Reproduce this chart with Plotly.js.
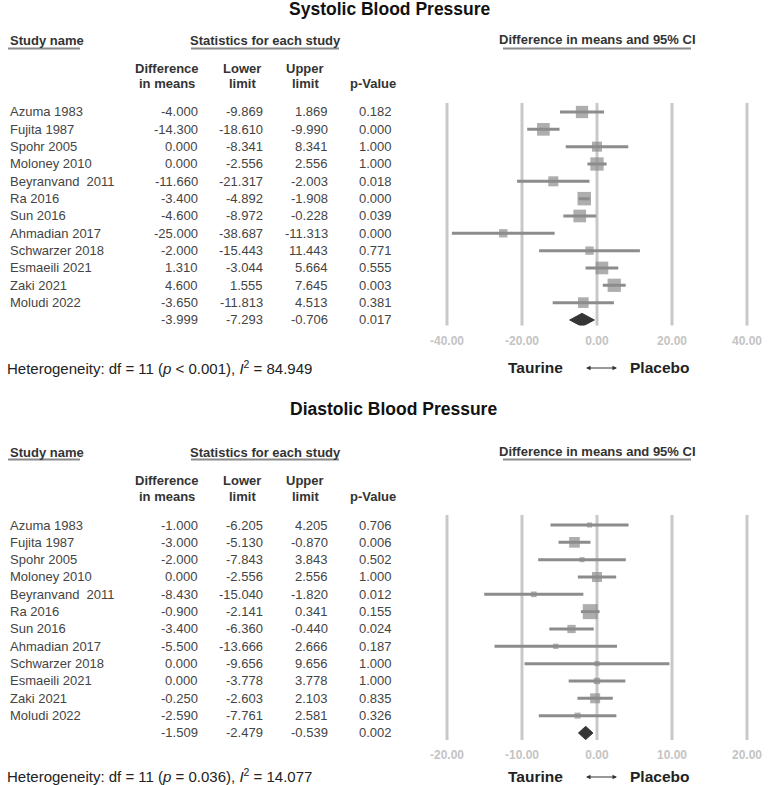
<!DOCTYPE html>
<html><head><meta charset="utf-8">
<script src="https://cdn.plot.ly/plotly-3.0.1.min.js"></script>
<style>html,body{margin:0;padding:0;background:#fff;} #chart{width:769px;height:785px;}</style>
</head><body><div id="chart"></div>
<script>
// ---------------- DATA ----------------
const studies = ['Azuma 1983','Fujita 1987','Spohr 2005','Moloney 2010','Beyranvand\u00a0 2011','Ra 2016','Sun 2016','Ahmadian 2017','Schwarzer 2018','Esmaeili 2021','Zaki 2021','Moludi 2022'];

// Systolic blood pressure
const sysDiff  = [-4.000,-14.300, 0.000, 0.000,-11.660,-3.400,-4.600,-25.000,-2.000, 1.310, 4.600,-3.650];
const sysLower = [-9.869,-18.610,-8.341,-2.556,-21.317,-4.892,-8.972,-38.687,-15.443,-3.044, 1.555,-11.813];
const sysUpper = [ 1.869, -9.990, 8.341, 2.556, -2.003,-1.908,-0.228,-11.313, 11.443, 5.664, 7.645, 4.513];
const sysP     = [0.182,0.000,1.000,1.000,0.018,0.000,0.039,0.000,0.771,0.555,0.003,0.381];
const sysWeight= [9.3,9.9,6.2,10.9,6.2,11.2,9.9,4.3,4.3,9.9,10.9,7.0];   // relative weight (%)
const sysPooled= [-3.999,-7.293,-0.706,0.017];                          // diff, lower, upper, p
const sysTicks = [-40,-20,0,20,40];
const sysHetDf = 11, sysHetP = '< 0.001', sysHetI2 = 84.949;

// Diastolic blood pressure
const diaDiff  = [-1.000,-3.000,-2.000, 0.000,-8.430,-0.900,-3.400,-5.500, 0.000, 0.000,-0.250,-2.590];
const diaLower = [-6.205,-5.130,-7.843,-2.556,-15.040,-2.141,-6.360,-13.666,-9.656,-3.778,-2.603,-7.761];
const diaUpper = [ 4.205,-0.870, 3.843, 2.556, -1.820, 0.341,-0.440, 2.666, 9.656, 3.778, 2.103, 2.581];
const diaP     = [0.706,0.006,0.502,1.000,0.012,0.155,0.024,0.187,1.000,1.000,0.835,0.326];
const diaWeight= [3.1,13.9,3.1,12.2,3.9,27.5,8.4,3.4,3.1,4.9,12.2,4.4];
const diaPooled= [-1.509,-2.479,-0.539,0.002];
const diaTicks = [-20,-10,0,10,20];
const diaHetDf = 11, diaHetP = '= 0.036', diaHetI2 = 14.077;

const colHeads1 = ['Difference','Lower','Upper',''];
const colHeads2 = ['in means','limit','limit','p-Value'];

// ---------------- LAYOUT HELPERS ----------------
const W=769, H=785;
const px = x => x/W, py = y => 1 - y/H;
const FONT = 'Liberation Sans, Arial, Helvetica, sans-serif';
const GRID='#c8c8c8', MARK='#8c8c8c', DIAM='#363636', TXT='#444444', HDR='#333333';

const panels = [
  {title:'Systolic Blood Pressure', titleX:390, titleY:9.5, hdrY:41, ulY:48.5, ch1:69, ch2:84,
   rowTop:112, sp:17.33, domTop:103, domBot:325.5, hetY:367, favY:367, xa:'x', ya:'y', xk:'xaxis', yk:'yaxis',
   ppu:3.75, k:4.03, diff:sysDiff, lo:sysLower, hi:sysUpper, p:sysP, w:sysWeight, pooled:sysPooled,
   ticks:sysTicks, het:[sysHetDf, sysHetP, sysHetI2]},
  {title:'Diastolic Blood Pressure', titleX:393, titleY:409, hdrY:452, ulY:459.5, ch1:480, ch2:496,
   rowTop:525, sp:17.33, domTop:515, domBot:740, hetY:775, favY:776, xa:'x2', ya:'y2', xk:'xaxis2', yk:'yaxis2',
   ppu:7.5, k:2.86, diff:diaDiff, lo:diaLower, hi:diaUpper, p:diaP, w:diaWeight, pooled:diaPooled,
   ticks:diaTicks, het:[diaHetDf, diaHetP, diaHetI2]}
];

const numX = [200,265,330,394];     // right edges of numeric columns
const headX = [166.5,242,305,373];  // header centres

const traces=[], annotations=[], shapes=[];
const layout = {width:W, height:H, margin:{l:0,r:0,t:0,b:0}, paper_bgcolor:'#fff', plot_bgcolor:'rgba(0,0,0,0)',
  showlegend:false, font:{family:FONT}, hovermode:false};

function ann(text, x, y, o){
  return Object.assign({text, x, y, xref:'paper', yref:'paper', showarrow:false, xanchor:'center', yanchor:'middle',
    font:{family:FONT, size:13, color:TXT}}, o||{});
}

panels.forEach(P=>{
  const n = studies.length;
  const idx = studies.map((_,i)=>i);
  const half = 160/P.ppu;
  layout[P.xk] = {domain:[px(597-160), px(597+160)], range:[-half, half], anchor:P.ya,
    tickvals:P.ticks, ticktext:P.ticks.map(v=>v.toFixed(2)), showgrid:false, zeroline:false, showline:false,
    ticks:'', ticklabelstandoff:6, tickfont:{family:FONT, size:12, color:'#c4c4c4', weight:'bold'}, fixedrange:true};
  layout[P.yk] = {domain:[py(P.domBot), py(P.domTop)], anchor:P.xa, visible:false, fixedrange:true,
    range:[n + (P.domBot - (P.rowTop + n*P.sp))/P.sp, -(P.rowTop - P.domTop)/P.sp]};

  // vertical reference lines at tick positions
  P.ticks.forEach(v=>shapes.push({type:'line', xref:P.xa, yref:P.ya+' domain', x0:v, x1:v, y0:0, y1:1,
    line:{color:GRID, width:3}, layer:'below'}));

  // study boxes + CIs
  traces.push({type:'scatter', mode:'markers', x:P.diff, y:idx, xaxis:P.xa, yaxis:P.ya, cliponaxis:false,
    marker:{symbol:'square', size:P.w.map(w=>P.k*Math.sqrt(w)), color:MARK, line:{width:0}},
    error_x:{type:'data', symmetric:false, array:P.hi.map((h,i)=>h-P.diff[i]),
      arrayminus:P.lo.map((l,i)=>P.diff[i]-l), color:MARK, thickness:3, width:0}});

  // pooled diamond
  const [pd, pl, pu] = P.pooled, dh = 0.38;
  traces.push({type:'scatter', mode:'lines', x:[pl,pd,pu,pd,pl], y:[n,n-dh,n,n+dh,n], xaxis:P.xa, yaxis:P.ya,
    fill:'toself', fillcolor:DIAM, line:{color:DIAM, width:1}, cliponaxis:false});

  // title & headers
  annotations.push(ann('<b>'+P.title+'</b>', px(P.titleX), py(P.titleY), {font:{family:FONT,size:17.5,color:'#111'}}));
  const hf = {family:FONT, size:13, color:HDR};
  annotations.push(ann('<b>Study name</b>', px(8), py(P.hdrY), {xanchor:'left', font:hf}));
  annotations.push(ann('<b>Statistics for each study</b>', px(265), py(P.hdrY), {font:hf}));
  annotations.push(ann('<b>Difference in means and 95% CI</b>', px(597), py(P.hdrY-1), {font:hf}));
  [[8,80],[191,339],[503,691]].forEach(([a,b])=>shapes.push({type:'line', xref:'paper', yref:'paper',
    x0:px(a), x1:px(b), y0:py(P.ulY), y1:py(P.ulY), line:{color:'#8a8a8a', width:2}}));
  colHeads1.forEach((t,j)=>{ if(t) annotations.push(ann('<b>'+t+'</b>', px(headX[j]), py(P.ch1), {font:hf})); });
  colHeads2.forEach((t,j)=>{ if(t) annotations.push(ann('<b>'+t+'</b>', px(headX[j]), py(P.ch2), {font:hf})); });

  // table rows
  const rowsTxt = (vals, i) => vals.forEach((v,j)=>annotations.push(ann(v.toFixed(3), px(numX[j]), i,
    {yref:P.ya, xanchor:'right'})));
  studies.forEach((s,i)=>{
    annotations.push(ann(s, px(8), i, {yref:P.ya, xanchor:'left'}));
    rowsTxt([P.diff[i], P.lo[i], P.hi[i], P.p[i]], i);
  });
  rowsTxt(P.pooled, n);

  // heterogeneity
  annotations.push(ann('Heterogeneity: df = '+P.het[0]+' (<i>p</i> '+P.het[1]+'), <i>I</i><sup>2</sup> = '+P.het[2].toFixed(3),
    px(5), py(P.hetY), {xanchor:'left', font:{family:FONT, size:15, color:'#222'}}));
  // favours labels
  const ff = {family:FONT, size:15.5, color:'#222'};
  annotations.push(ann('<b>Taurine</b>', px(535), py(P.favY), {font:ff}));
  annotations.push(ann('<b>Placebo</b>', px(659), py(P.favY), {font:ff}));
  annotations.push({text:' ', x:px(617), y:py(P.favY+1), xref:'paper', yref:'paper', showarrow:true,
    ax:-34, ay:0, arrowside:'end+start', arrowhead:2, arrowsize:0.9, arrowwidth:1, arrowcolor:'#333', standoff:0, startstandoff:0});
});

layout.annotations = annotations;
layout.shapes = shapes;
Plotly.newPlot('chart', traces, layout, {staticPlot:true, displayModeBar:false});
</script></body></html>
